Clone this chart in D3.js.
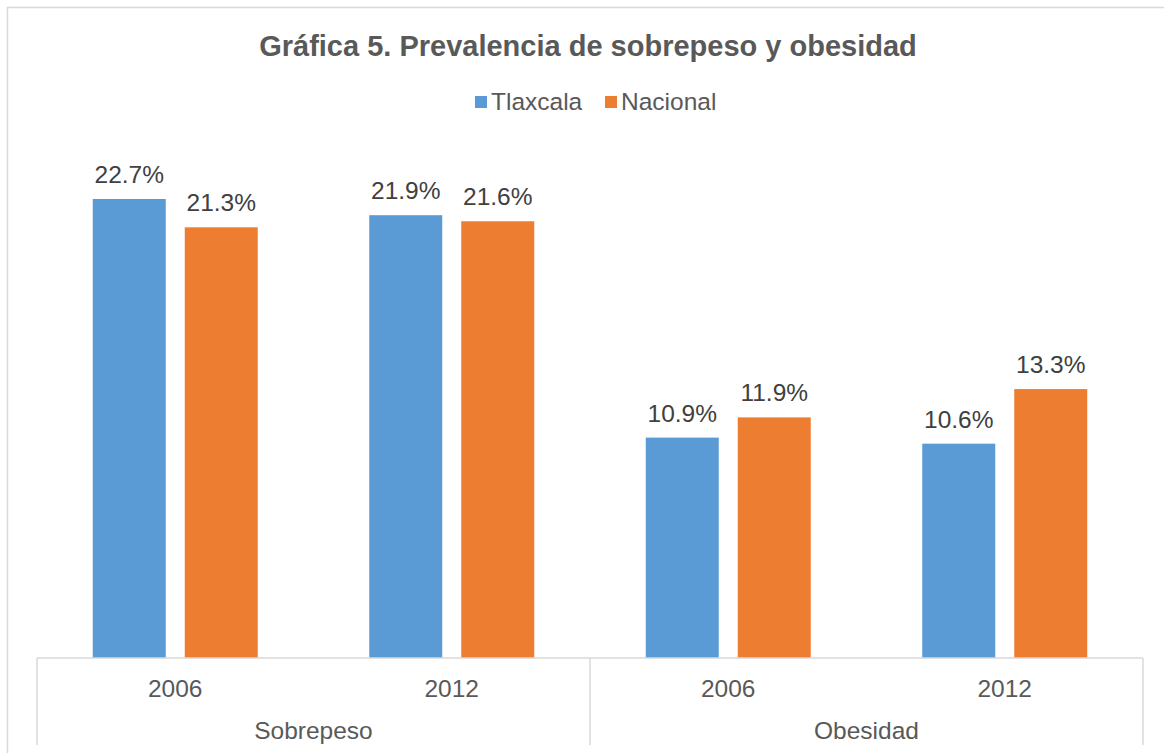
<!DOCTYPE html>
<html>
<head>
<meta charset="utf-8">
<script src="https://cdn.jsdelivr.net/npm/d3@7"></script>
<style>
  body { margin: 0; background: #fff; }
  svg { font-family: "Liberation Sans", Arial, sans-serif; }
</style>
</head>
<body>
<div id="chart"></div>
<script>
// data
const categories = ["Sobrepeso", "Obesidad"];
const years = ["2006", "2012"];
const seriesNames = ["Tlaxcala", "Nacional"];
const tlaxcala = [22.7, 21.9, 10.9, 10.6];
const nacional = [21.3, 21.6, 11.9, 13.3];
const colors = ["#5B9BD5", "#ED7D31"];

const W = 1164, H = 753;
const plot = { left: 37, right: 1143, base: 658 };
const fs = 24.5;

const svg = d3.select("#chart").append("svg")
	.attr("width", W).attr("height", H);

// chart frame (runs off the right and bottom edge)
svg.append("rect")
	.attr("x", 7.5).attr("y", 7.5)
	.attr("width", W + 20).attr("height", H + 20)
	.attr("fill", "none").attr("stroke", "#d9d9d9").attr("stroke-width", 1.5);

svg.append("text")
	.attr("x", 588).attr("y", 56)
	.attr("text-anchor", "middle")
	.attr("font-size", 29).attr("font-weight", "bold")
	.attr("fill", "#595959")
	.text("Gráfica 5. Prevalencia de sobrepeso y obesidad");

// legend
const legend = svg.append("g");
const legendX = [475, 605];
seriesNames.forEach((name, i) => {
	legend.append("rect")
		.attr("x", legendX[i]).attr("y", 96)
		.attr("width", 12).attr("height", 12)
		.attr("fill", colors[i]);
	legend.append("text")
		.attr("x", legendX[i] + 16).attr("y", 110)
		.attr("font-size", fs).attr("fill", "#595959")
		.text(name);
});

// groups: category x year
const groups = [];
categories.forEach(c => years.forEach(y => groups.push({ cat: c, year: y })));
groups.forEach((g, i) => { g.values = [tlaxcala[i], nacional[i]]; });

const x0 = d3.scaleBand()
	.domain(d3.range(groups.length))
	.range([plot.left, plot.right]);

const x1 = d3.scaleBand()
	.domain(d3.range(seriesNames.length))
	.range([0, x0.bandwidth()])
	.paddingInner(0.2065)
	.paddingOuter(0.606);

const y = d3.scaleLinear()
	.domain([0, 25])
	.range([plot.base, plot.base - 25 * 20.22]);

const g = svg.selectAll(".group")
	.data(groups)
	.join("g")
	.attr("class", "group")
	.attr("transform", (d, i) => `translate(${x0(i)},0)`);

g.selectAll("rect")
	.data(d => d.values)
	.join("rect")
	.attr("x", (d, i) => x1(i))
	.attr("width", x1.bandwidth())
	.attr("y", d => y(d))
	.attr("height", d => y(0) - y(d))
	.attr("fill", (d, i) => colors[i]);

g.selectAll("text.val")
	.data(d => d.values)
	.join("text")
	.attr("class", "val")
	.attr("x", (d, i) => x1(i) + x1.bandwidth() / 2)
	.attr("y", d => y(d) - 16)
	.attr("text-anchor", "middle")
	.attr("font-size", fs).attr("fill", "#404040")
	.text(d => d.toFixed(1) + "%");

// multi-level category axis
const axis = svg.append("g").attr("stroke", "#d9d9d9").attr("stroke-width", 1.5);
axis.append("line")
	.attr("x1", plot.left).attr("x2", plot.right)
	.attr("y1", plot.base).attr("y2", plot.base);
const seps = [0, 2, 4].map(i => i < groups.length ? x0(i) : plot.right);
axis.selectAll(".sep")
	.data(seps)
	.join("line")
	.attr("class", "sep")
	.attr("x1", d => d).attr("x2", d => d)
	.attr("y1", plot.base).attr("y2", 745);

svg.selectAll(".year")
	.data(groups)
	.join("text")
	.attr("class", "year")
	.attr("x", (d, i) => x0(i) + x0.bandwidth() / 2)
	.attr("y", 697)
	.attr("text-anchor", "middle")
	.attr("font-size", fs).attr("fill", "#595959")
	.text(d => d.year);

svg.selectAll(".cat")
	.data(categories)
	.join("text")
	.attr("class", "cat")
	.attr("x", (d, i) => (x0(i * 2) + x0(i * 2 + 1) + x0.bandwidth()) / 2)
	.attr("y", 739)
	.attr("text-anchor", "middle")
	.attr("font-size", fs).attr("fill", "#595959")
	.text(d => d);
</script>
</body>
</html>
